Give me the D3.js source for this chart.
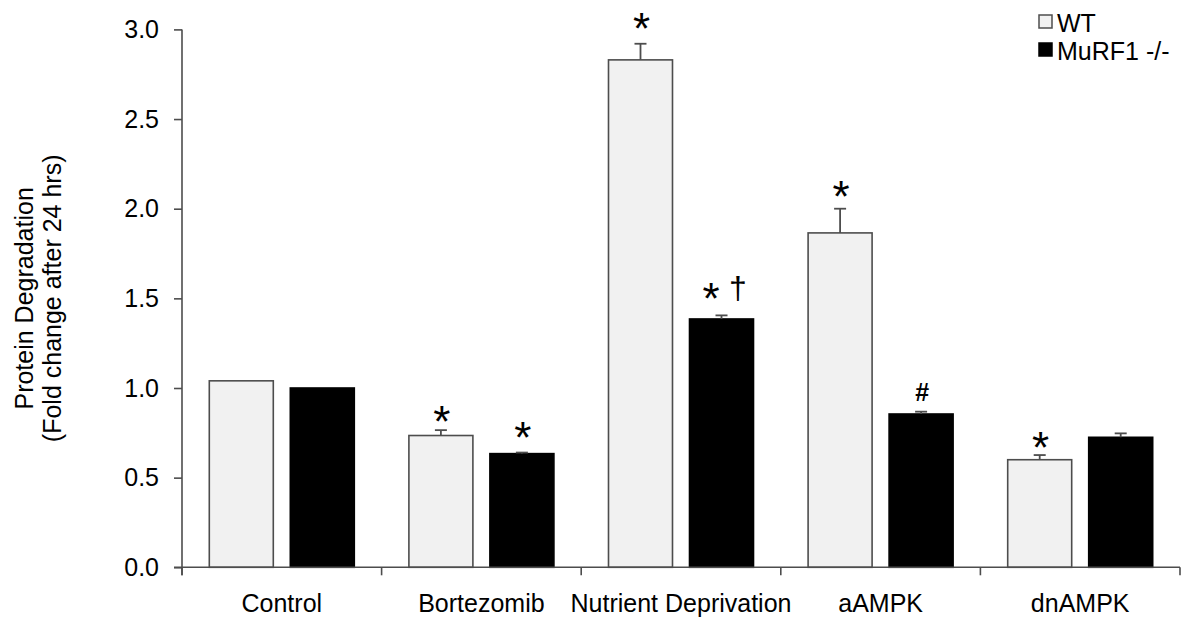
<!DOCTYPE html>
<html>
<head>
<meta charset="utf-8">
<script src="https://cdn.jsdelivr.net/npm/d3@7"></script>
<style>
  html, body { margin: 0; padding: 0; background: #fff; }
  svg { display: block; }
  text { font-family: "Liberation Sans", Arial, sans-serif; fill: #000; }
</style>
</head>
<body>
<svg id="chart" width="1182" height="620"></svg>
<script>
// ---- data ----
const categories = ["Control", "Bortezomib", "Nutrient Deprivation", "aAMPK", "dnAMPK"];
const seriesNames = ["WT", "MuRF1 -/-"];
const wtValues = [1.04, 0.735, 2.83, 1.865, 0.60];
const wtErrors = [0, 0.03, 0.09, 0.135, 0.026];
const muValues = [1.00, 0.634, 1.385, 0.855, 0.725];
const muErrors = [0, 0.006, 0.02, 0.013, 0.022];
const wtMarks = ["", "*", "*", "*", "*"];
const muMarks = ["", "*", "* †", "#", ""];
const wtMarkLevels = [null, 0.868, 3.058, 2.123, 0.724];
const muMarkLevels = [null, 0.775, 1.552, 0.978, null];
const yTicks = [0, 0.5, 1.0, 1.5, 2.0, 2.5, 3.0];
const yLabelLines = ["Protein Degradation", "(Fold change after 24 hrs)"];

// ---- layout ----
const svg = d3.select("#chart");
const plotLeft = 182, plotRight = 1180, plotTop = 29.4, plotBottom = 567.3;
const fillColors = {"WT": "#f1f1f1", "MuRF1 -/-": "#000000"};
const strokeColor = "#4d4d4d";

const y = d3.scaleLinear().domain([0, 3]).range([plotBottom, plotTop]);
const x = d3.scaleBand().domain(categories).range([plotLeft, plotRight]).padding(0);
const x1 = d3.scaleBand().domain(seriesNames).range([0, x.bandwidth()])
  .paddingInner(0.21).paddingOuter(0.337);

const rows = categories.map((c, i) => ({
  cat: c,
  bars: [
    {s: "WT", v: wtValues[i], e: wtErrors[i], mark: wtMarks[i], level: wtMarkLevels[i]},
    {s: "MuRF1 -/-", v: muValues[i], e: muErrors[i], mark: muMarks[i], level: muMarkLevels[i]}
  ]
}));

// bars
const g = svg.append("g");
const groups = g.selectAll("g.cat").data(rows).join("g")
  .attr("class", "cat")
  .attr("transform", d => `translate(${x(d.cat)},0)`);

groups.selectAll("rect").data(d => d.bars).join("rect")
  .attr("x", d => x1(d.s))
  .attr("width", x1.bandwidth())
  .attr("y", d => y(d.v))
  .attr("height", d => y(0) - y(d.v))
  .attr("fill", d => fillColors[d.s])
  .attr("stroke", d => d.s === "WT" ? strokeColor : "#000")
  .attr("stroke-width", 1.6);

// error bars
const errs = groups.selectAll("g.err").data(d => d.bars.filter(b => b.e > 0)).join("g").attr("class", "err");
errs.append("line")
  .attr("x1", d => x1(d.s) + x1.bandwidth() / 2)
  .attr("x2", d => x1(d.s) + x1.bandwidth() / 2)
  .attr("y1", d => y(d.v))
  .attr("y2", d => y(d.v + d.e))
  .attr("stroke", strokeColor).attr("stroke-width", 1.8);
errs.append("line")
  .attr("x1", d => x1(d.s) + x1.bandwidth() / 2 - 6)
  .attr("x2", d => x1(d.s) + x1.bandwidth() / 2 + 6)
  .attr("y1", d => y(d.v + d.e))
  .attr("y2", d => y(d.v + d.e))
  .attr("stroke", strokeColor).attr("stroke-width", 1.8);

// significance marks
const glyphStyle = {
  "*": {size: 44, base: 0.57, weight: "normal"},
  "†": {size: 32, base: 0.3, weight: "normal"},
  "#": {size: 25, base: 0.36, weight: "bold"}
};
groups.each(function(d) {
  const grp = d3.select(this);
  d.bars.forEach(b => {
    if (!b.mark) return;
    const tokens = b.mark.split(" ");
    const cx = x1(b.s) + x1.bandwidth() / 2;
    const cy = y(b.level);
    const spacing = 27;
    const shift = tokens.length > 1 ? 3 : 1;
    tokens.forEach((t, k) => {
      const st = glyphStyle[t];
      const off = (k - (tokens.length - 1) / 2) * spacing + shift;
      grp.append("text")
        .attr("x", cx + off)
        .attr("y", cy + st.base * st.size)
        .attr("text-anchor", "middle")
        .attr("font-size", st.size)
        .attr("font-weight", st.weight)
        .text(t);
    });
  });
});

// y axis
const yAxis = svg.append("g")
  .attr("transform", `translate(${plotLeft},0)`)
  .call(d3.axisLeft(y).tickValues(yTicks).tickFormat(d3.format(".1f")).tickSize(8).tickPadding(15));
yAxis.select(".domain").attr("stroke", strokeColor).attr("stroke-width", 1.6)
  .attr("d", `M0,${plotTop}V${plotBottom + 8}`);
yAxis.selectAll(".tick line").attr("stroke", strokeColor).attr("stroke-width", 1.6);
yAxis.selectAll(".tick text").attr("font-size", 25).attr("fill", "#000")
  .style("font-family", '"Liberation Sans", Arial, sans-serif');

// x axis
const xAxis = svg.append("g")
  .attr("transform", `translate(0,${plotBottom})`)
  .call(d3.axisBottom(x).tickSize(0).tickPadding(27));
xAxis.select(".domain").attr("stroke", strokeColor).attr("stroke-width", 1.6)
  .attr("d", `M${plotLeft - 8},0H${plotRight}`);
xAxis.selectAll(".tick text").attr("font-size", 25).attr("fill", "#000")
  .style("font-family", '"Liberation Sans", Arial, sans-serif');
const boundaries = categories.map(c => x(c)).concat([x.range()[1]]);
xAxis.selectAll("line.bound").data(boundaries).join("line")
  .attr("class", "bound")
  .attr("x1", d => d).attr("x2", d => d)
  .attr("y1", 0).attr("y2", 8)
  .attr("stroke", strokeColor).attr("stroke-width", 1.6);

// y label
const yl = svg.append("text")
  .attr("transform", `translate(33,${(plotTop + plotBottom) / 2}) rotate(-90)`)
  .attr("text-anchor", "middle")
  .attr("font-size", 25);
yLabelLines.forEach((t, i) => {
  yl.append("tspan").attr("x", 0).attr("dy", i === 0 ? 0 : 28).text(t);
});

// legend
const leg = svg.append("g").attr("transform", "translate(1039,15)");
seriesNames.forEach((s, i) => {
  const row = leg.append("g").attr("transform", `translate(0,${i * 28})`);
  row.append("rect").attr("x", 0).attr("y", 0).attr("width", 13).attr("height", 13)
    .attr("fill", fillColors[s]).attr("stroke", s === "WT" ? strokeColor : "#000").attr("stroke-width", 1.5);
  row.append("text").attr("x", 18).attr("y", 17).attr("font-size", 25).text(s);
});
</script>
</body>
</html>
